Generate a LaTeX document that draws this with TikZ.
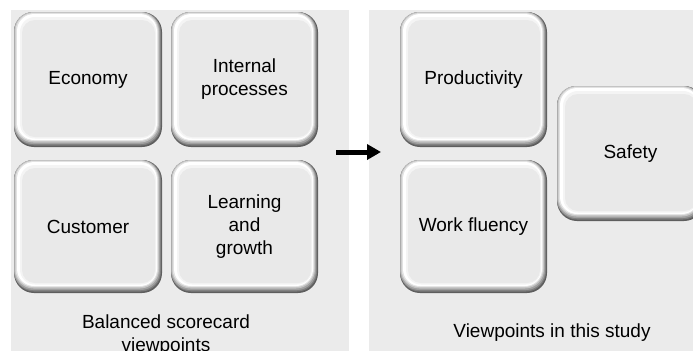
\documentclass[tikz,border=0pt]{standalone}
\usepackage{fontspec}
\setmainfont{Liberation Sans}
\usetikzlibrary{arrows.meta}
\definecolor{panelbg}{HTML}{EBEBEB}
\definecolor{boxface}{HTML}{E9E9E9}
\definecolor{edgeA}{HTML}{5E5E5E}
\definecolor{edgeB}{HTML}{7E7E7E}
\definecolor{edgeC}{HTML}{A0A0A0}
\definecolor{edgeD}{HTML}{C4C4C4}
\definecolor{edgeE}{HTML}{E2E2E2}
\definecolor{edgeF}{HTML}{F4F4F4}
\tikzset{
  panel/.style={fill=panelbg, draw=none},
  boxtext/.style={inner sep=0pt, align=center, text=black,
    font=\fontsize{19bp}{23bp}\selectfont},
  caption/.style={inner sep=0pt, align=center, text=black,
    font=\fontsize{19bp}{23bp}\selectfont},
  flowarrow/.style={line width=5bp, -{Triangle[length=14bp,width=15bp]}}
}
\newcommand{\bevbox}[6]{%
  \fill[edgeA, rounded corners=20bp] (#2,#3) rectangle (#4,#5);
  \fill[edgeB, rounded corners=20bp] (#2,#3) rectangle ({#4-1},{#5-1.5});
  \fill[edgeC, rounded corners=19bp] (#2,#3) rectangle ({#4-2},{#5-3});
  \fill[edgeD, rounded corners=19bp] ({#2+0.5},{#3}) rectangle ({#4-3},{#5-4.5});
  \fill[edgeE, rounded corners=18bp] ({#2+1.5},{#3+1}) rectangle ({#4-4},{#5-6});
  \fill[white, rounded corners=17bp] ({#2+3},{#3+2}) rectangle ({#4-5},{#5-7});
  \fill[edgeF, rounded corners=15bp] ({#2+6},{#3+5}) rectangle ({#4-6},{#5-8.5});
  \fill[boxface, rounded corners=13bp] ({#2+8},{#3+8}) rectangle ({#4-7},{#5-10});
  \node[boxtext] (#1) at ({(#2+#4)/2},{(#3+#5)/2}) {#6};
}
\begin{document}
\begin{tikzpicture}[x=1bp,y=-1bp]
\useasboundingbox (0,0) rectangle (693,350);
\fill[white] (0,0) rectangle (693,350);
% panels
\fill[panel] (11,10) rectangle (349,352);
\fill[panel] (369,10) rectangle (695,352);
% left boxes
\bevbox{eco}{14}{12}{162}{147}{Economy}
\bevbox{int}{171}{12}{318}{147}{Internal\\processes}
\bevbox{cus}{14}{160}{162}{293}{Customer}
\bevbox{lea}{171}{160}{318}{293}{Learning\\and\\growth}
% right boxes
\bevbox{pro}{400}{12}{547}{147}{Productivity}
\bevbox{wor}{400}{160}{547}{293}{Work fluency}
\bevbox{saf}{557}{86}{704}{221}{Safety}
% captions
\node[caption] (bsc) at (166,335) {Balanced scorecard\\viewpoints};
\node[caption, anchor=base] (vis) at (552,337) {Viewpoints in this study};
% arrow
\coordinate (astart) at (336,152);
\coordinate (aend) at (381,152);
\draw[flowarrow] (astart) -- (aend);
\end{tikzpicture}
\end{document}
